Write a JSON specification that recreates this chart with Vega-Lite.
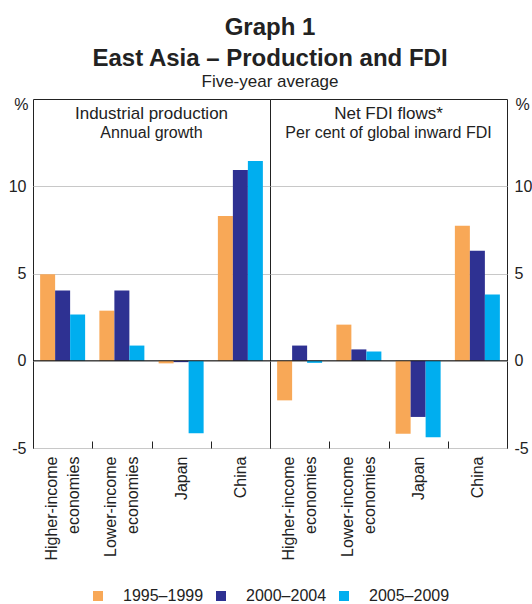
{
  "$schema": "https://vega.github.io/schema/vega-lite/v6.json",
  "padding": {"left": 7, "right": 0, "top": 15, "bottom": 0},
  "background": "white",
  "config": {
    "font": "Liberation Sans",
    "view": {"stroke": "#222", "strokeWidth": 1},
    "title": {"color": "#222", "subtitleColor": "#222"},
    "axis": {"labelColor": "#222", "titleColor": "#222"},
    "concat": {"spacing": 0}
  },
  "title": {
    "text": ["Graph 1", "East Asia – Production and FDI"],
    "subtitle": "Five-year average",
    "fontSize": 24,
    "fontWeight": "bold",
    "lineHeight": 31,
    "subtitleFontSize": 17,
    "subtitleFontWeight": "normal",
    "subtitlePadding": 3,
    "anchor": "middle",
    "offset": 6
  },
  "datasets": {
    "d": [
      {"panel": "IP", "cat": "Higher-income economies", "period": "1995–1999", "value": 4.95},
      {"panel": "IP", "cat": "Higher-income economies", "period": "2000–2004", "value": 4.02},
      {"panel": "IP", "cat": "Higher-income economies", "period": "2005–2009", "value": 2.65},
      {"panel": "IP", "cat": "Lower-income economies", "period": "1995–1999", "value": 2.87},
      {"panel": "IP", "cat": "Lower-income economies", "period": "2000–2004", "value": 4.02},
      {"panel": "IP", "cat": "Lower-income economies", "period": "2005–2009", "value": 0.87},
      {"panel": "IP", "cat": "Japan", "period": "1995–1999", "value": -0.15},
      {"panel": "IP", "cat": "Japan", "period": "2000–2004", "value": -0.08},
      {"panel": "IP", "cat": "Japan", "period": "2005–2009", "value": -4.15},
      {"panel": "IP", "cat": "China", "period": "1995–1999", "value": 8.3},
      {"panel": "IP", "cat": "China", "period": "2000–2004", "value": 10.93},
      {"panel": "IP", "cat": "China", "period": "2005–2009", "value": 11.45},
      {"panel": "FDI", "cat": "Higher-income economies", "period": "1995–1999", "value": -2.27},
      {"panel": "FDI", "cat": "Higher-income economies", "period": "2000–2004", "value": 0.87},
      {"panel": "FDI", "cat": "Higher-income economies", "period": "2005–2009", "value": -0.12},
      {"panel": "FDI", "cat": "Lower-income economies", "period": "1995–1999", "value": 2.07},
      {"panel": "FDI", "cat": "Lower-income economies", "period": "2000–2004", "value": 0.65},
      {"panel": "FDI", "cat": "Lower-income economies", "period": "2005–2009", "value": 0.53},
      {"panel": "FDI", "cat": "Japan", "period": "1995–1999", "value": -4.19},
      {"panel": "FDI", "cat": "Japan", "period": "2000–2004", "value": -3.22},
      {"panel": "FDI", "cat": "Japan", "period": "2005–2009", "value": -4.38},
      {"panel": "FDI", "cat": "China", "period": "1995–1999", "value": 7.73},
      {"panel": "FDI", "cat": "China", "period": "2000–2004", "value": 6.3},
      {"panel": "FDI", "cat": "China", "period": "2005–2009", "value": 3.8}
    ]
  },
  "spacing": 0,
  "bounds": "flush",
  "resolve": {"legend": {"color": "shared"}},
  "hconcat": [
    {
      "width": 237,
      "height": 349,
      "data": {"name": "d"},
      "transform": [{"filter": "datum.panel == 'IP'"}],
      "title": {"text": "Industrial production", "subtitle": "Annual growth", "fontSize": 17, "fontWeight": "normal", "subtitleFontSize": 16, "subtitlePadding": 2, "anchor": "middle", "offset": -46},
      "layer": [
        {
          "mark": {"type": "bar"},
          "encoding": {
            "x": {
              "field": "cat", "type": "nominal",
              "sort": ["Higher-income economies", "Lower-income economies", "Japan", "China"],
              "scale": {"paddingInner": 0, "paddingOuter": 0},
              "axis": {"title": null, "labelAngle": -90, "labelAlign": "right", "labelBaseline": "middle", "labelFontSize": 16, "labelLineHeight": 22, "labelExpr": "split(datum.label, ' ')", "labelOffset": {"condition": {"test": "datum.value == 'Japan' || datum.value == 'China'", "value": 0}, "value": -11}, "tickBand": "extent", "tickSize": -7, "tickColor": "#222", "domain": false, "labelPadding": 15}
            },
            "xOffset": {"field": "period", "type": "nominal", "sort": ["1995–1999", "2000–2004", "2005–2009"], "scale": {"paddingOuter": 0.475, "paddingInner": 0}},
            "y": {
              "field": "value", "type": "quantitative",
              "scale": {"domain": [-5, 15], "nice": false, "zero": false},
              "axis": {"orient": "left", "values": [-5, 0, 5, 10], "labelExpr": "datum.value < 0 ? '-5' : datum.label", "grid": true, "gridColor": "#c8c8c8", "ticks": false, "domain": false, "labelFontSize": 16, "labelPadding": 7, "title": "%", "titleAngle": 0, "titleX": -5, "titleY": -3, "titleAlign": "right", "titleBaseline": "top", "titleFontSize": 16, "titleFontWeight": "normal"}
            },
            "color": {
              "field": "period", "type": "nominal",
              "scale": {"domain": ["1995–1999", "2000–2004", "2005–2009"], "range": ["#F8A857", "#2E3192", "#00AEEF"]},
              "legend": {"orient": "none", "legendX": 57, "legendY": 489, "direction": "horizontal", "title": null, "symbolType": "square", "symbolSize": 100, "labelFontSize": 16, "labelOffset": 17, "columnPadding": 9, "symbolStrokeWidth": 0, "labelColor": "#222"}
            }
          }
        },
        {
          "data": {"values": [{}]},
          "mark": {"type": "rule", "color": "#111", "strokeWidth": 1},
          "encoding": {"y": {"datum": 0, "type": "quantitative"}}
        }
      ]
    },
    {
      "width": 237,
      "height": 349,
      "data": {"name": "d"},
      "transform": [{"filter": "datum.panel == 'FDI'"}],
      "title": {"text": "Net FDI flows*", "subtitle": "Per cent of global inward FDI", "fontSize": 17, "fontWeight": "normal", "subtitleFontSize": 16, "subtitlePadding": 2, "anchor": "middle", "offset": -46},
      "layer": [
        {
          "mark": {"type": "bar"},
          "encoding": {
            "x": {
              "field": "cat", "type": "nominal",
              "sort": ["Higher-income economies", "Lower-income economies", "Japan", "China"],
              "scale": {"paddingInner": 0, "paddingOuter": 0},
              "axis": {"title": null, "labelAngle": -90, "labelAlign": "right", "labelBaseline": "middle", "labelFontSize": 16, "labelLineHeight": 22, "labelExpr": "split(datum.label, ' ')", "labelOffset": {"condition": {"test": "datum.value == 'Japan' || datum.value == 'China'", "value": 0}, "value": -11}, "tickBand": "extent", "tickSize": -7, "tickColor": "#222", "domain": false, "labelPadding": 15}
            },
            "xOffset": {"field": "period", "type": "nominal", "sort": ["1995–1999", "2000–2004", "2005–2009"], "scale": {"paddingOuter": 0.475, "paddingInner": 0}},
            "y": {
              "field": "value", "type": "quantitative",
              "scale": {"domain": [-5, 15], "nice": false, "zero": false},
              "axis": {"orient": "right", "values": [-5, 0, 5, 10], "labelExpr": "datum.value < 0 ? '-5' : datum.label", "grid": true, "gridColor": "#c8c8c8", "ticks": false, "domain": false, "labelFontSize": 16, "labelPadding": 7, "title": "%", "titleAngle": 0, "titleX": 8, "titleY": -3, "titleAlign": "left", "titleBaseline": "top", "titleFontSize": 16, "titleFontWeight": "normal"}
            },
            "color": {
              "field": "period", "type": "nominal",
              "legend": null
            }
          }
        },
        {
          "data": {"values": [{}]},
          "mark": {"type": "rule", "color": "#111", "strokeWidth": 1},
          "encoding": {"y": {"datum": 0, "type": "quantitative"}}
        }
      ]
    }
  ]
}
